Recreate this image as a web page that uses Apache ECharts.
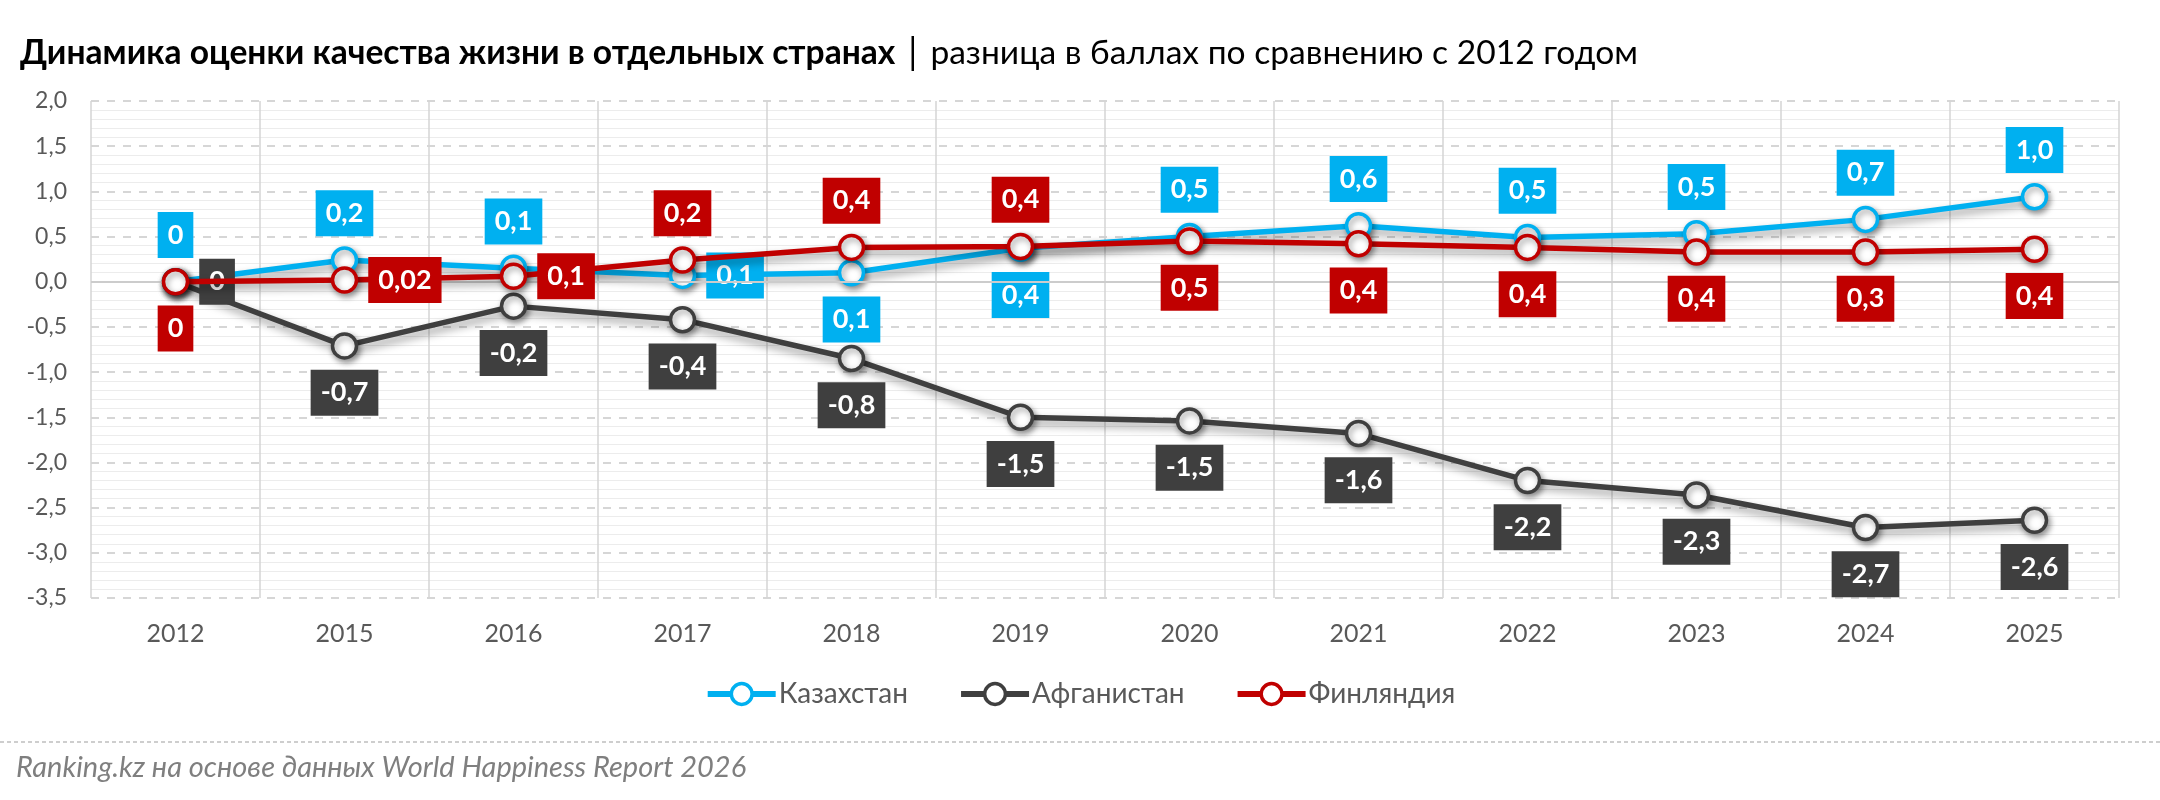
<!DOCTYPE html>
<html>
<head>
<meta charset="utf-8">
<script src="https://cdn.jsdelivr.net/npm/echarts@6/dist/echarts.min.js"></script>
<style>
html,body{margin:0;padding:0;background:#fff;}
#chart{width:2160px;height:800px;}
</style>
</head>
<body>
<div id="chart"></div>
<script>
// ---- data ----
const years = ['2012','2015','2016','2017','2018','2019','2020','2021','2022','2023','2024','2025'];
const kazakhstan = [0, 0.24, 0.15, 0.07, 0.10, 0.37, 0.50, 0.62, 0.49, 0.53, 0.69, 0.94];
const afghanistan = [0, -0.71, -0.27, -0.42, -0.85, -1.50, -1.54, -1.68, -2.20, -2.36, -2.72, -2.64];
const finland = [0, 0.02, 0.06, 0.24, 0.38, 0.39, 0.45, 0.42, 0.38, 0.33, 0.33, 0.36];
const kazLabels = ['0','0,2','0,1','0,1','0,1','0,4','0,5','0,6','0,5','0,5','0,7','1,0'];
const afgLabels = ['0','-0,7','-0,2','-0,4','-0,8','-1,5','-1,5','-1,6','-2,2','-2,3','-2,7','-2,6'];
const finLabels = ['0','0,02','0,1','0,2','0,4','0,4','0,5','0,4','0,4','0,4','0,3','0,4'];
const yTicks = {min: -3.5, max: 2.0, interval: 0.5};

// ---- label placement (style) ----
const kazPos = ['top','top','top','right','bottom','bottom','top','top','top','top','top','top'];
const afgPos = ['right','bottom','bottom','bottom','bottom','bottom','bottom','bottom','bottom','bottom','bottom','bottom'];
const finPos = ['bottom','right','right','top','top','top','bottom','bottom','bottom','bottom','bottom','bottom'];

const FONT = 'Lato, "Noto Sans", sans-serif';
const BLUE = '#00B0F0', DARK = '#3F3F3F', RED = '#C00000';

function makeSeries(name, values, labels, pos, color, z) {
  return {
    name: name,
    type: 'line',
    z: z,
    data: values.map((v, i) => ({
      value: v,
      label: {position: pos[i]}
    })),
    symbol: 'circle',
    symbolSize: 24,
    showAllSymbol: true,
    itemStyle: {
      color: '#ffffff',
      borderColor: color,
      borderWidth: 3.5,
      shadowColor: 'rgba(0,0,0,0.4)',
      shadowBlur: 6,
      shadowOffsetX: 2,
      shadowOffsetY: 3
    },
    lineStyle: {
      color: color,
      width: 5.5,
      shadowColor: 'rgba(0,0,0,0.4)',
      shadowBlur: 8,
      shadowOffsetX: 2,
      shadowOffsetY: 5
    },
    label: {
      show: true,
      distance: 10,
      formatter: (p) => labels[p.dataIndex],
      backgroundColor: color,
      color: '#ffffff',
      fontFamily: FONT,
      fontWeight: 'bold',
      fontSize: 27,
      lineHeight: 28,
      padding: [9, 10, 9, 10]
    },
    emphasis: {disabled: true},
    animation: false
  };
}

const chart = echarts.init(document.getElementById('chart'), null, {renderer: 'canvas'});

const kazSeries = makeSeries('Казахстан', kazakhstan, kazLabels, kazPos, BLUE, 3);
const afgSeries = makeSeries('Афганистан', afghanistan, afgLabels, afgPos, DARK, 4);
const finSeries = makeSeries('Финляндия', finland, finLabels, finPos, RED, 5);

const zeroLine = {
  type: 'line',
  data: [],
  z: 1,
  silent: true,
  markLine: {
    silent: true,
    symbol: 'none',
    label: {show: false},
    lineStyle: {color: '#cccccc', type: 'solid', width: 2},
    data: [{yAxis: 0}],
    animation: false
  }
};

chart.setOption({
  backgroundColor: '#ffffff',
  animation: false,
  title: {
    left: 15,
    top: 30,
    text: '{b|Динамика оценки качества жизни в отдельных странах}{s||}{r|разница в баллах по сравнению с 2012 годом}',
    textStyle: {
      rich: {
        b: {fontFamily: FONT, fontWeight: 'bold', fontSize: 33.6, color: '#000000'},
        s: {fontFamily: FONT, fontWeight: 'normal', fontSize: 36, color: '#000000', padding: [0, 13, 0, 13]},
        r: {fontFamily: FONT, fontWeight: 'normal', fontSize: 33.6, color: '#000000'}
      }
    }
  },
  legend: {
    left: 'center',
    top: 675,
    itemWidth: 68,
    itemHeight: 26,
    itemGap: 50,
    data: ['Казахстан', 'Афганистан', 'Финляндия'],
    lineStyle: {width: 6, shadowBlur: 0, shadowColor: 'rgba(0,0,0,0)', shadowOffsetX: 0, shadowOffsetY: 0},
    itemStyle: {borderWidth: 3.5, shadowBlur: 0, shadowColor: 'rgba(0,0,0,0)', shadowOffsetX: 0, shadowOffsetY: 0},
    textStyle: {fontFamily: FONT, fontSize: 28, color: '#595959', padding: [0, 0, 0, -2]}
  },
  grid: {left: 91, right: 41, top: 101, bottom: 202, containLabel: false},
  xAxis: {
    type: 'category',
    data: years,
    boundaryGap: true,
    axisLine: {show: false, onZero: false},
    axisTick: {show: false},
    axisLabel: {fontFamily: FONT, fontSize: 25, color: '#595959', margin: 23},
    splitLine: {show: true, lineStyle: {color: '#d4d4d4', width: 1.5}}
  },
  yAxis: {
    type: 'value',
    min: yTicks.min,
    max: yTicks.max,
    interval: yTicks.interval,
    axisLine: {show: false},
    axisTick: {show: false},
    axisLabel: {
      fontFamily: FONT, fontSize: 23, color: '#595959', margin: 24,
      formatter: (v) => v.toFixed(1).replace('.', ',')
    },
    splitLine: {show: true, lineStyle: {color: '#c9c9c9', type: [8, 8], width: 1.5}},
    minorTick: {show: false, splitNumber: 5},
    minorSplitLine: {show: true, lineStyle: {color: '#ececec', width: 1}}
  },
  graphic: [
    {
      type: 'line',
      shape: {x1: 0, y1: 742, x2: 2160, y2: 742},
      style: {stroke: '#bfbfbf', lineWidth: 1.5, lineDash: [4, 3]},
      silent: true
    },
    {
      type: 'text',
      left: 16,
      top: 753,
      style: {
        text: 'Ranking.kz на основе данных World Happiness Report 2026',
        font: 'italic 29px ' + FONT,
        fill: '#7f7f7f'
      },
      silent: true
    }
  ],
  series: [zeroLine, kazSeries, afgSeries, finSeries]
});
</script>
</body>
</html>
